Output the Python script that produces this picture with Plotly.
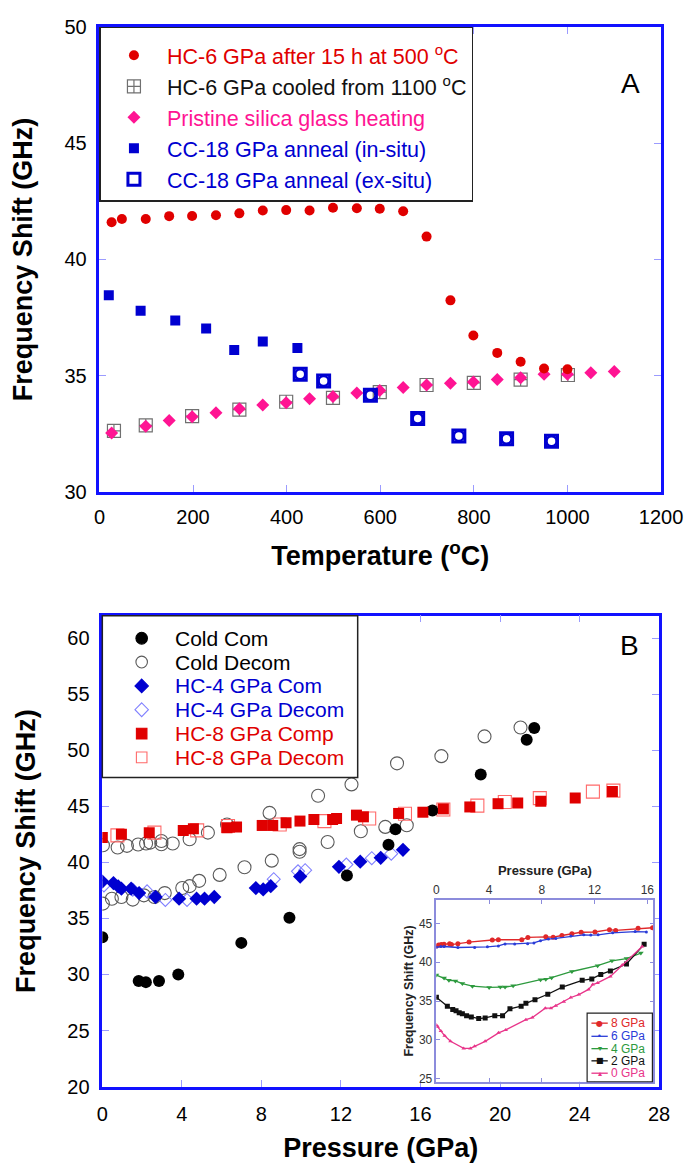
import plotly.graph_objects as go

W, H = 700, 1176
FONT = "Liberation Sans, Arial, Helvetica, sans-serif"

# ---------------- Panel A data (Temperature °C, Frequency shift GHz) ----------------
hc6_after_T = [26, 48, 99, 149, 198, 249, 299, 349, 399, 449, 499, 550, 599, 649, 699, 750, 799, 850, 900, 950, 1000]
hc6_after_F = [41.6, 41.74, 41.74, 41.86, 41.87, 41.9, 41.98, 42.1, 42.12, 42.1, 42.22, 42.2, 42.18, 42.07,
               40.98, 38.24, 36.73, 35.98, 35.6, 35.31, 35.28]

hc6_cooled_T = [31, 99, 198, 299, 399, 499, 599, 699, 800, 900, 1001]
hc6_cooled_F = [32.63, 32.86, 33.26, 33.54, 33.88, 34.05, 34.29, 34.6, 34.69, 34.83, 35.03]

pristine_T = [26, 99, 149, 198, 249, 299, 349, 399, 449, 499, 550, 599, 649, 699, 750, 799, 850, 900, 950, 1000, 1050, 1100]
pristine_F = [32.54, 32.83, 33.07, 33.23, 33.41, 33.58, 33.74, 33.84, 34.01, 34.11, 34.26, 34.36, 34.49, 34.6,
              34.67, 34.73, 34.84, 34.91, 35.06, 35.06, 35.13, 35.18]

cc18_insitu_T = [20, 88, 162, 228, 288, 349, 423]
cc18_insitu_F = [38.46, 37.79, 37.37, 37.03, 36.1, 36.47, 36.19]

cc18_exsitu_T = [429, 479, 579, 680, 768, 870, 966]
cc18_exsitu_F = [35.06, 34.77, 34.16, 33.16, 32.41, 32.29, 32.18]

# ---------------- Panel B data (Pressure GPa, Frequency shift GHz) ----------------
cold_com_P = [0, 1.83, 2.19, 2.85, 3.82, 6.99, 9.41, 12.3, 14.39, 14.74, 16.6, 19.03, 21.34, 21.72]
cold_com_F = [33.32, 29.41, 29.32, 29.41, 30.0, 32.82, 35.06, 38.82, 41.58, 42.96, 44.62, 47.84, 50.94, 51.99]

cold_decom_P = [0.03, 0.77, 1.24, 1.8, 2.2, 2.41, 2.97, 2.97, 3.54, 4.39, 5.31, 6.27, 8.41, 10.85, 12.53,
                14.82, 17.05, 19.22, 21.03,
                0.03, 0.48, 0.96, 1.53, 2.09, 2.62, 3.14, 4.02, 4.39, 4.87, 5.9, 7.15, 8.52, 9.92, 9.92,
                11.33, 13.0, 14.23, 15.31]
cold_decom_F = [41.53, 41.32, 41.47, 41.59, 41.68, 41.76, 41.91, 41.62, 41.68, 42.06, 42.65, 43.38, 44.41, 45.94, 46.95,
                48.83, 49.47, 51.23, 52.02,
                36.32, 36.76, 36.91, 36.68, 37.06, 36.91, 37.26, 37.71, 37.88, 38.35, 38.88, 39.56, 40.15, 41.18, 40.94,
                41.82, 42.77, 43.16, 43.31]

hc4_com_P = [0, 0.56, 0.8, 0.96, 1.45, 1.85, 2.68, 3.86, 4.74, 5.14, 5.63, 7.72, 8.09, 8.47, 9.95, 11.9, 12.97, 14.0, 15.12]
hc4_com_F = [38.29, 38.15, 37.85, 37.65, 37.65, 37.26, 36.91, 36.76, 36.76, 36.76, 36.91, 37.71, 37.59, 37.88, 38.74,
             39.6, 40.06, 40.4, 41.12]

hc4_decom_P = [0.08, 1.53, 2.25, 3.17, 4.26, 8.62, 9.84, 10.2, 12.27, 13.55, 14.53]
hc4_decom_F = [37.94, 37.56, 37.41, 36.65, 36.65, 38.5, 39.2, 39.3, 39.8, 40.37, 40.77]

hc8_comp_P = [0, 0.96, 2.36, 4.07, 4.58, 6.27, 6.75, 8.04, 8.57, 9.24, 9.94, 10.64, 11.58, 11.78, 12.78, 13.13,
              14.9, 16.12, 17.15, 18.48, 19.9, 20.89, 22.05, 23.78, 25.65]
hc8_comp_F = [42.21, 42.5, 42.65, 42.85, 43.0, 43.09, 43.15, 43.29, 43.29, 43.53, 43.68, 43.82, 43.82, 43.91, 44.21, 44.06,
              44.36, 44.47, 44.77, 44.94, 45.23, 45.29, 45.44, 45.73, 46.31]

hc8_decom_P = [0.76, 2.62, 4.77, 6.32, 8.92, 11.17, 13.42, 15.22, 17.15, 18.86, 20.24, 22.0, 24.67, 25.7]
hc8_decom_F = [42.41, 42.65, 42.85, 43.24, 43.38, 43.68, 43.91, 44.33, 44.71, 45.06, 45.38, 45.73, 46.31, 46.4]

# ---------------- Inset data ----------------
in8_P = [0, 0.17, 0.37, 0.58, 1.0, 1.14, 1.63, 2.48, 4.24, 4.7, 6.48, 6.94, 8.3, 8.86, 9.52, 10.28, 10.98,
         12.03, 13.13, 13.6, 15.3, 16.4]
in8_F = [42.1, 42.24, 42.28, 42.32, 42.4, 42.28, 42.4, 42.6, 42.87, 42.9, 42.9, 43.2, 43.28, 43.24, 43.45, 43.66,
         43.87, 43.9, 44.2, 44.1, 44.37, 44.45]

in6_P = [0, 0.34, 0.58, 1.63, 2.9, 3.87, 4.7, 5.21, 5.94, 6.92, 7.4, 7.9, 8.5, 9.06, 10.2, 11.18, 11.71, 12.27,
         13.37, 15.08, 15.93]
in6_F = [41.95, 42.03, 42.03, 41.9, 41.9, 41.99, 42.1, 42.36, 42.36, 42.4, 42.49, 42.78, 42.99, 43.07, 43.37, 43.54,
         43.5, 43.54, 43.79, 43.95, 43.91]

in4_P = [0, 0.58, 0.95, 1.44, 1.97, 2.73, 4.0, 4.85, 5.21, 5.82, 7.9, 8.3, 8.74, 10.28, 12.23, 13.32, 14.42, 15.51]
in4_F = [38.35, 37.97, 37.68, 37.6, 37.26, 36.92, 36.76, 36.8, 36.8, 36.97, 37.76, 37.8, 38.01, 38.81, 39.56, 40.19,
         40.48, 41.19]

in2_P = [0, 0.83, 1.24, 1.49, 1.73, 1.97, 2.29, 2.65, 3.21, 3.7, 4.43, 5.02, 5.58, 6.43, 6.79, 7.48, 8.45, 9.55,
         11.06, 11.79, 12.47, 13.2, 14.42, 15.76]
in2_F = [35.5, 34.33, 33.91, 33.74, 33.49, 33.37, 33.12, 32.95, 32.74, 32.82, 33.12, 33.12, 34.0, 34.33, 34.71,
         35.17, 35.88, 36.8, 37.68, 37.85, 38.43, 38.89, 39.77, 42.32]

in0_P = [0, 0.1, 0.34, 0.63, 1.07, 2.07, 2.58, 2.9, 3.7, 4.72, 5.26, 6.79, 7.28, 8.26, 8.69, 9.06, 9.67, 10.2,
         10.81, 11.54, 11.86, 12.23, 13.2, 14.1, 15.61]
in0_F = [31.9, 31.69, 31.15, 30.52, 29.81, 28.9, 28.9, 29.18, 29.81, 30.9, 31.28, 32.6, 32.87, 34.08, 34.08, 34.41,
         34.92, 35.46, 35.84, 36.5, 37.13, 37.34, 38.18, 39.64, 42.03]

# ---------------- colours ----------------
RED = "#e00000"
BLUE = "#0000d0"
PINK = "#ff1493"
GRAY = "#707070"

def px(x):
    return x / W

def py(y):
    return 1 - y / H

fig = go.Figure()

# Panel A traces (draw order), legend order via legendrank
fig.add_trace(go.Scatter(x=hc6_cooled_T, y=hc6_cooled_F, mode="markers", xaxis="x", yaxis="y",
                         name="<span style='color:#111'>HC-6 GPa cooled from 1100 <sup>o</sup>C</span>",
                         legendrank=2, legend="legend",
                         marker=dict(symbol="square-cross-open", size=13, color=GRAY, line=dict(width=1.2, color=GRAY))))
fig.add_trace(go.Scatter(x=pristine_T, y=pristine_F, mode="markers", xaxis="x", yaxis="y",
                         name="<span style='color:#ff1493'>Pristine silica glass heating</span>",
                         legendrank=3, legend="legend",
                         marker=dict(symbol="diamond", size=10, color=PINK)))
fig.add_trace(go.Scatter(x=hc6_after_T, y=hc6_after_F, mode="markers", xaxis="x", yaxis="y",
                         name="<span style='color:#e00000'>HC-6 GPa after 15 h at 500 <sup>o</sup>C</span>",
                         legendrank=1, legend="legend",
                         marker=dict(symbol="circle", size=10, color=RED)))
fig.add_trace(go.Scatter(x=cc18_insitu_T, y=cc18_insitu_F, mode="markers", xaxis="x", yaxis="y",
                         name="<span style='color:#0000d0'>CC-18 GPa anneal (in-situ)</span>",
                         legendrank=4, legend="legend",
                         marker=dict(symbol="square", size=10, color=BLUE)))
fig.add_trace(go.Scatter(x=cc18_exsitu_T, y=cc18_exsitu_F, mode="markers", xaxis="x", yaxis="y",
                         name="<span style='color:#0000d0'>CC-18 GPa anneal (ex-situ)</span>",
                         legendrank=5, legend="legend",
                         marker=dict(symbol="square-open", size=12, color=BLUE, line=dict(width=3, color=BLUE))))
fig.add_trace(go.Scatter(x=cc18_exsitu_T, y=cc18_exsitu_F, mode="markers", xaxis="x", yaxis="y",
                         showlegend=False, hoverinfo="skip",
                         marker=dict(symbol="circle-open", size=10, color=BLUE, line=dict(width=2.5, color=BLUE))))

# Panel B traces
fig.add_trace(go.Scatter(x=cold_decom_P, y=cold_decom_F, mode="markers", xaxis="x2", yaxis="y2", showlegend=False,
                         marker=dict(symbol="circle-open", size=13, color="#5a5a5a", line=dict(width=1.1))))
fig.add_trace(go.Scatter(x=hc4_decom_P, y=hc4_decom_F, mode="markers", xaxis="x2", yaxis="y2", showlegend=False,
                         marker=dict(symbol="diamond-open", size=10, color="#8080ff", line=dict(width=1.1))))
fig.add_trace(go.Scatter(x=hc8_decom_P, y=hc8_decom_F, mode="markers", xaxis="x2", yaxis="y2", showlegend=False,
                         marker=dict(symbol="square-open", size=13, color="#ff6a6a", line=dict(width=1.1))))
fig.add_trace(go.Scatter(x=cold_com_P, y=cold_com_F, mode="markers", xaxis="x2", yaxis="y2", showlegend=False,
                         marker=dict(symbol="circle", size=12, color="black")))
fig.add_trace(go.Scatter(x=hc4_com_P, y=hc4_com_F, mode="markers", xaxis="x2", yaxis="y2", showlegend=False,
                         marker=dict(symbol="diamond", size=11, color=BLUE)))
fig.add_trace(go.Scatter(x=hc8_comp_P, y=hc8_comp_F, mode="markers", xaxis="x2", yaxis="y2", showlegend=False,
                         marker=dict(symbol="square", size=11, color=RED)))

# Inset traces
inset = [
    (in8_P, in8_F, "#e0282a", "circle", 5),
    (in6_P, in6_F, "#2a3cd8", "circle", 3),
    (in4_P, in4_F, "#2d9a3e", "triangle-down", 5),
    (in2_P, in2_F, "#111111", "square", 5),
    (in0_P, in0_F, "#e8358a", "triangle-up", 4),
]
for xs, ys, c, sym, sz in inset:
    fig.add_trace(go.Scatter(x=xs, y=ys, mode="lines+markers", xaxis="x3", yaxis="y3", showlegend=False,
                             line=dict(color=c, width=1.3), marker=dict(symbol=sym, size=sz, color=c)))

# ---------------- axes ----------------
FRAME = "#1212ff"
TICKC = "#9b9bff"

def main_axis(**kw):
    d = dict(showline=True, linecolor=FRAME, linewidth=2.5, mirror="ticks", ticks="inside",
             tickcolor=TICKC, ticklen=7, tickwidth=1.3, showgrid=False, zeroline=False,
             ticklabeloverflow="allow",
             tickfont=dict(size=20, color="black", family=FONT))
    d.update(kw)
    return d

title_font = dict(size=27, color="black", family=FONT, weight="bold")

layout_axes = dict(
    xaxis=main_axis(domain=[px(89), px(674)], range=[0, 1200], dtick=200, anchor="y",
                    ticklabelstandoff=5,
                    title=dict(text="Temperature (<sup>o</sup>C)", font=title_font, standoff=20)),
    yaxis=main_axis(domain=[py(482), py(8)], range=[30, 50], dtick=5, anchor="x",
                    ticklabelstandoff=6,
                    title=dict(text="Frequency Shift (GHz)", font=title_font, standoff=26)),
    xaxis2=main_axis(domain=[px(92), px(672)], range=[0, 28], dtick=4, anchor="y2",
                     ticklabelstandoff=8,
                     title=dict(text="Pressure (GPa)", font=title_font, standoff=14)),
    yaxis2=main_axis(domain=[py(1088), py(608)], range=[20, 62], dtick=5, tick0=20, anchor="x2",
                     ticklabelstandoff=6,
                     title=dict(text="Frequency Shift (GHz)", font=title_font, standoff=24)),
    xaxis3=dict(domain=[px(440), px(666)], range=[0, 16.46], dtick=4, anchor="y3", side="top",
                showline=True, linecolor="#8c8cdc", linewidth=1.5, mirror="ticks", ticks="inside",
                tickcolor="#8c8cdc", ticklen=4, showgrid=False, zeroline=False,
                tickfont=dict(size=12, color="#333", family=FONT),
                title=dict(text="Pressure (GPa)", font=dict(size=13, color="#222", family=FONT, weight="bold"),
                           standoff=4)),
    yaxis3=dict(domain=[py(1083), py(898)], range=[24.6, 48], dtick=5, tick0=25, anchor="x3",
                showline=True, linecolor="#8c8cdc", linewidth=1.5, mirror="ticks", ticks="inside",
                tickcolor="#8c8cdc", ticklen=4, showgrid=False, zeroline=False,
                tickfont=dict(size=12, color="#333", family=FONT),
                title=dict(text="Frequency Shift (GHz)", font=dict(size=12.5, color="#222", family=FONT, weight="bold"),
                           standoff=3)),
)

# ---------------- manual legend for panel B ----------------
shapes = []
annotations = []
shapes.append(dict(type="rect", xref="paper", yref="paper", x0=px(92), x1=px(358), y0=py(773), y1=py(608),
                   line=dict(color="#222", width=1.5), fillcolor="white", layer="above"))
legB_labels = ["Cold Com", "Cold Decom", "HC-4 GPa Com", "HC-4 GPa Decom", "HC-8 GPa Comp", "HC-8 GPa Decom"]
legB_colors = ["black", "black", BLUE, BLUE, RED, RED]
legB_kinds = [("circle", "black", "black"), ("circle", None, "#5a5a5a"), ("diamond", BLUE, BLUE),
              ("diamond", None, "#8080ff"), ("square", RED, RED), ("square", None, "#ff6a6a")]
row0, drow, symx, textx = 631, 24.3, 133, 166
for i, (lab, col, kind) in enumerate(zip(legB_labels, legB_colors, legB_kinds)):
    yc = row0 + i * drow
    shape, fill, lc = kind
    r = 6
    if shape == "circle":
        shapes.append(dict(type="circle", xref="paper", yref="paper", x0=px(symx - r), x1=px(symx + r),
                           y0=py(yc + r), y1=py(yc - r), fillcolor=fill if fill else "rgba(0,0,0,0)",
                           line=dict(color=lc, width=1.1), layer="above"))
    elif shape == "square":
        s = 5.5
        shapes.append(dict(type="rect", xref="paper", yref="paper", x0=px(symx - s), x1=px(symx + s),
                           y0=py(yc + s), y1=py(yc - s), fillcolor=fill if fill else "rgba(0,0,0,0)",
                           line=dict(color=lc, width=1.1), layer="above"))
    else:
        d = 7
        path = "M {a},{b} L {c},{e} L {a},{f} L {g},{e} Z".format(
            a=px(symx), b=py(yc - d), c=px(symx + d), e=py(yc), f=py(yc + d), g=px(symx - d))
        shapes.append(dict(type="path", xref="paper", yref="paper", path=path,
                           fillcolor=fill if fill else "rgba(0,0,0,0)", line=dict(color=lc, width=1.1),
                           layer="above"))
    annotations.append(dict(xref="paper", yref="paper", x=px(textx), y=py(yc), xanchor="left", yanchor="middle",
                            text=lab, showarrow=False, font=dict(size=21, color=col, family=FONT)))

# ---------------- manual legend for inset ----------------
shapes.append(dict(type="rect", xref="paper", yref="paper", x0=px(597), x1=px(665), y0=py(1083), y1=py(1013),
                   line=dict(color="#222", width=1.2), fillcolor="white", layer="above"))
inL_labels = ["8 GPa", "6 GPa", "4 GPa", "2 GPa", "0 GPa"]
inL_marks = ["●", "•", "▾", "■", "▴"]
inL_colors = ["#e0282a", "#2a3cd8", "#2d9a3e", "#111111", "#e8358a"]
inL_rows = [1023.3, 1036.7, 1049.3, 1061.7, 1074.3]
for lab, mk, c, yc in zip(inL_labels, inL_marks, inL_colors, inL_rows):
    shapes.append(dict(type="line", xref="paper", yref="paper", x0=px(601.5), x1=px(618.5), y0=py(yc), y1=py(yc),
                       line=dict(color=c, width=1.3), layer="above"))
    annotations.append(dict(xref="paper", yref="paper", x=px(610), y=py(yc), xanchor="center", yanchor="middle",
                            text=mk, showarrow=False, font=dict(size=8, color=c, family="DejaVu Sans")))
    annotations.append(dict(xref="paper", yref="paper", x=px(620), y=py(yc), xanchor="left", yanchor="middle",
                            text=lab, showarrow=False, font=dict(size=12, color=c, family=FONT)))

# panel letters
annotations.append(dict(xref="paper", yref="paper", x=px(654), y=py(48), text="A", showarrow=False,
                        font=dict(size=28, color="black", family=FONT)))
annotations.append(dict(xref="paper", yref="paper", x=px(653), y=py(638), text="B", showarrow=False,
                        font=dict(size=28, color="black", family=FONT)))

fig.update_layout(
    width=W, height=H, autosize=False,
    margin=dict(l=0, r=0, t=0, b=0),
    paper_bgcolor="white", plot_bgcolor="white",
    font=dict(family=FONT, color="black"),
    shapes=shapes, annotations=annotations,
    legend=dict(x=px(89), y=py(8), xanchor="left", yanchor="top", bgcolor="white",
                bordercolor="#222", borderwidth=1.5, font=dict(size=21.5, family=FONT),
                title=dict(text="&nbsp;", font=dict(size=5)),
                itemwidth=56, traceorder="normal", tracegroupgap=0),
    **layout_axes,
)

fig.write_html("out.html")
